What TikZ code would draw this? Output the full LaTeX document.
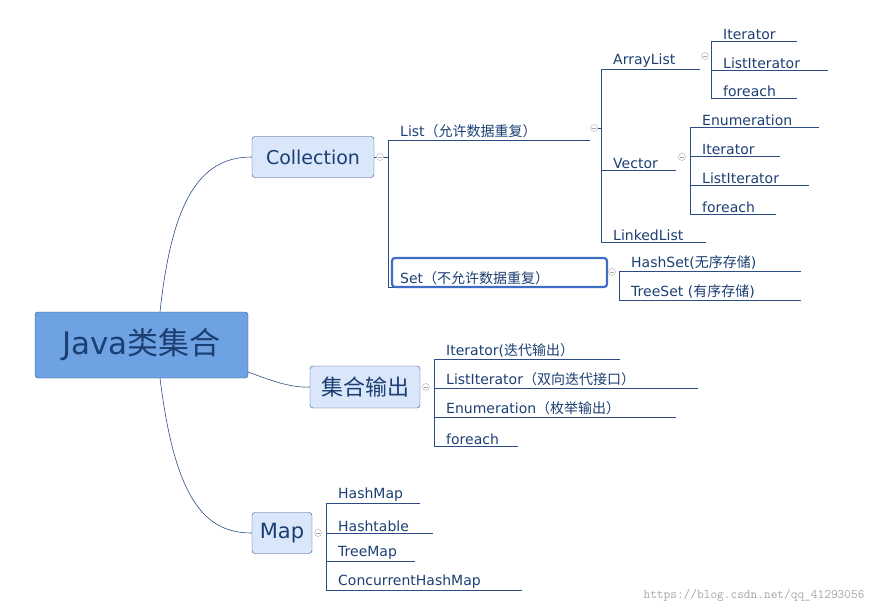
\documentclass[tikz,border=0pt]{standalone}
\usepackage{fontspec}
\setmainfont{DejaVu Sans}
\newfontfamily\cjk{Noto Sans CJK SC}
\usetikzlibrary{positioning, calc}
\definecolor{ink}{HTML}{1B3F73}
\definecolor{edge}{HTML}{2C4C86}
\definecolor{rootfill}{HTML}{6EA2E2}
\definecolor{boxfill}{HTML}{DAE6FA}
\definecolor{selblue}{HTML}{3F6CC4}

\tikzset{
  ln/.style={edge, line width=0.6pt},
  leaf/.style={text=ink, font=\fontsize{14}{16}\selectfont, inner xsep=12pt, inner ysep=1.5pt},
  topic/.style={draw=edge, fill=boxfill, rounded corners=3pt, text=ink, font=\fontsize{19}{21}\selectfont, inner sep=0pt},
  fold/.style={circle, draw=gray!70, fill=white, minimum size=7pt, inner sep=0pt}
}
% leaf with its underline: name, x, y, end of line, text
\newcommand\leaf[5]{%
  \node[leaf, anchor=south west] (#1) at (#2,#3) {#5};
  \draw[ln] (#1.south west) -- (#4,#3);}
\newcommand\fold[3]{%
  \node[fold] (#1) at (#2,#3) {};
  \draw[gray!70, line width=0.5pt] ($(#1)+(-2pt,0)$) -- ($(#1)+(2pt,0)$);}

\begin{document}
\begin{tikzpicture}[x=1pt, y=-1pt]
  \useasboundingbox (0,0) rectangle (878,615);

  % 主题
  \node[topic, fill=rootfill, minimum width=213pt, minimum height=66pt, font=\fontsize{31}{34}\selectfont]
    (root) at (141.5,345) {Java{\cjk 类集合}};
  \node[topic, minimum width=122pt, minimum height=41pt] (coll) at (313,157) {Collection};
  \node[topic, minimum width=110pt, minimum height=42pt, font=\cjk\fontsize{22}{24}\selectfont] (out) at (365,387) {集合输出};
  \node[topic, minimum width=60pt, minimum height=41pt, font=\fontsize{21}{23}\selectfont] (map) at (282,533) {Map};

  % 连线
  \draw[ln] (160,312) .. controls (172,200) and (200,157) .. (coll.west);
  \draw[ln] (248,372) .. controls (270,380) and (290,388) .. (out.west);
  \draw[ln] (160,378) .. controls (175,500) and (205,533) .. (map.west);

  % Collection
  \draw[ln] (coll.east) -- (388,157);
  \draw[ln] (388,140) -- (388,287);
  \leaf{list}{388}{140}{590}{List{\cjk （允许数据重复）}}
  \leaf{set}{388}{287}{604}{Set{\cjk （不允许数据重复）}}
  \draw[selblue, line width=2.2pt, rounded corners=3pt] (392,258) rectangle (607,287);
  \fold{fcoll}{380}{157}
  \fold{flist}{594}{128}

  % List
  \draw[ln] (flist.east) -- (601,128);
  \draw[ln] (601,69) -- (601,242);
  \leaf{alist}{601}{69}{700}{ArrayList}
  \leaf{vec}{601}{170}{676}{Vector}
  \leaf{llist}{601}{242}{706}{LinkedList}
  \fold{falist}{705}{56}
  \fold{fvec}{682}{157}

  % ArrayList
  \draw[ln] (711,41) -- (711,98);
  \leaf{ait}{711}{41}{797}{Iterator}
  \leaf{alit}{711}{70}{828}{ListIterator}
  \leaf{afe}{711}{98}{797}{foreach}

  % Vector
  \draw[ln] (690,127) -- (690,214);
  \leaf{ven}{690}{127}{819}{Enumeration}
  \leaf{vit}{690}{156}{780}{Iterator}
  \leaf{vlit}{690}{185}{809}{ListIterator}
  \leaf{vfe}{690}{214}{776}{foreach}

  % Set
  \fold{fset}{612}{272}
  \draw[ln] (619,271) -- (619,300);
  \leaf{hset}{619}{271}{801}{HashSet({\cjk 无序存储})}
  \leaf{tset}{619}{300}{801}{TreeSet ({\cjk 有序存储})}

  % 集合输出
  \fold{fout}{426}{387}
  \draw[ln] (434,359) -- (434,446);
  \leaf{oit}{434}{359}{620}{Iterator({\cjk 迭代输出}{\cjk ）}}
  \leaf{olit}{434}{388}{698}{ListIterator{\cjk （双向迭代接口）}}
  \leaf{oen}{434}{417}{676}{Enumeration{\cjk （枚举输出）}}
  \leaf{ofe}{434}{446}{518}{foreach}

  % Map
  \fold{fmap}{318}{533}
  \draw[ln] (326,503) -- (326,590);
  \leaf{hmap}{326}{503}{420}{HashMap}
  \leaf{htab}{326}{533}{433}{Hashtable}
  \leaf{tmap}{326}{561}{415}{TreeMap}
  \leaf{cmap}{326}{590}{522}{ConcurrentHashMap}

  \node[text=gray!70, font=\ttfamily\fontsize{13}{15}\selectfont, anchor=east] (mark) at (868,595) {https://blog.csdn.net/qq\_41293056};
\end{tikzpicture}
\end{document}
